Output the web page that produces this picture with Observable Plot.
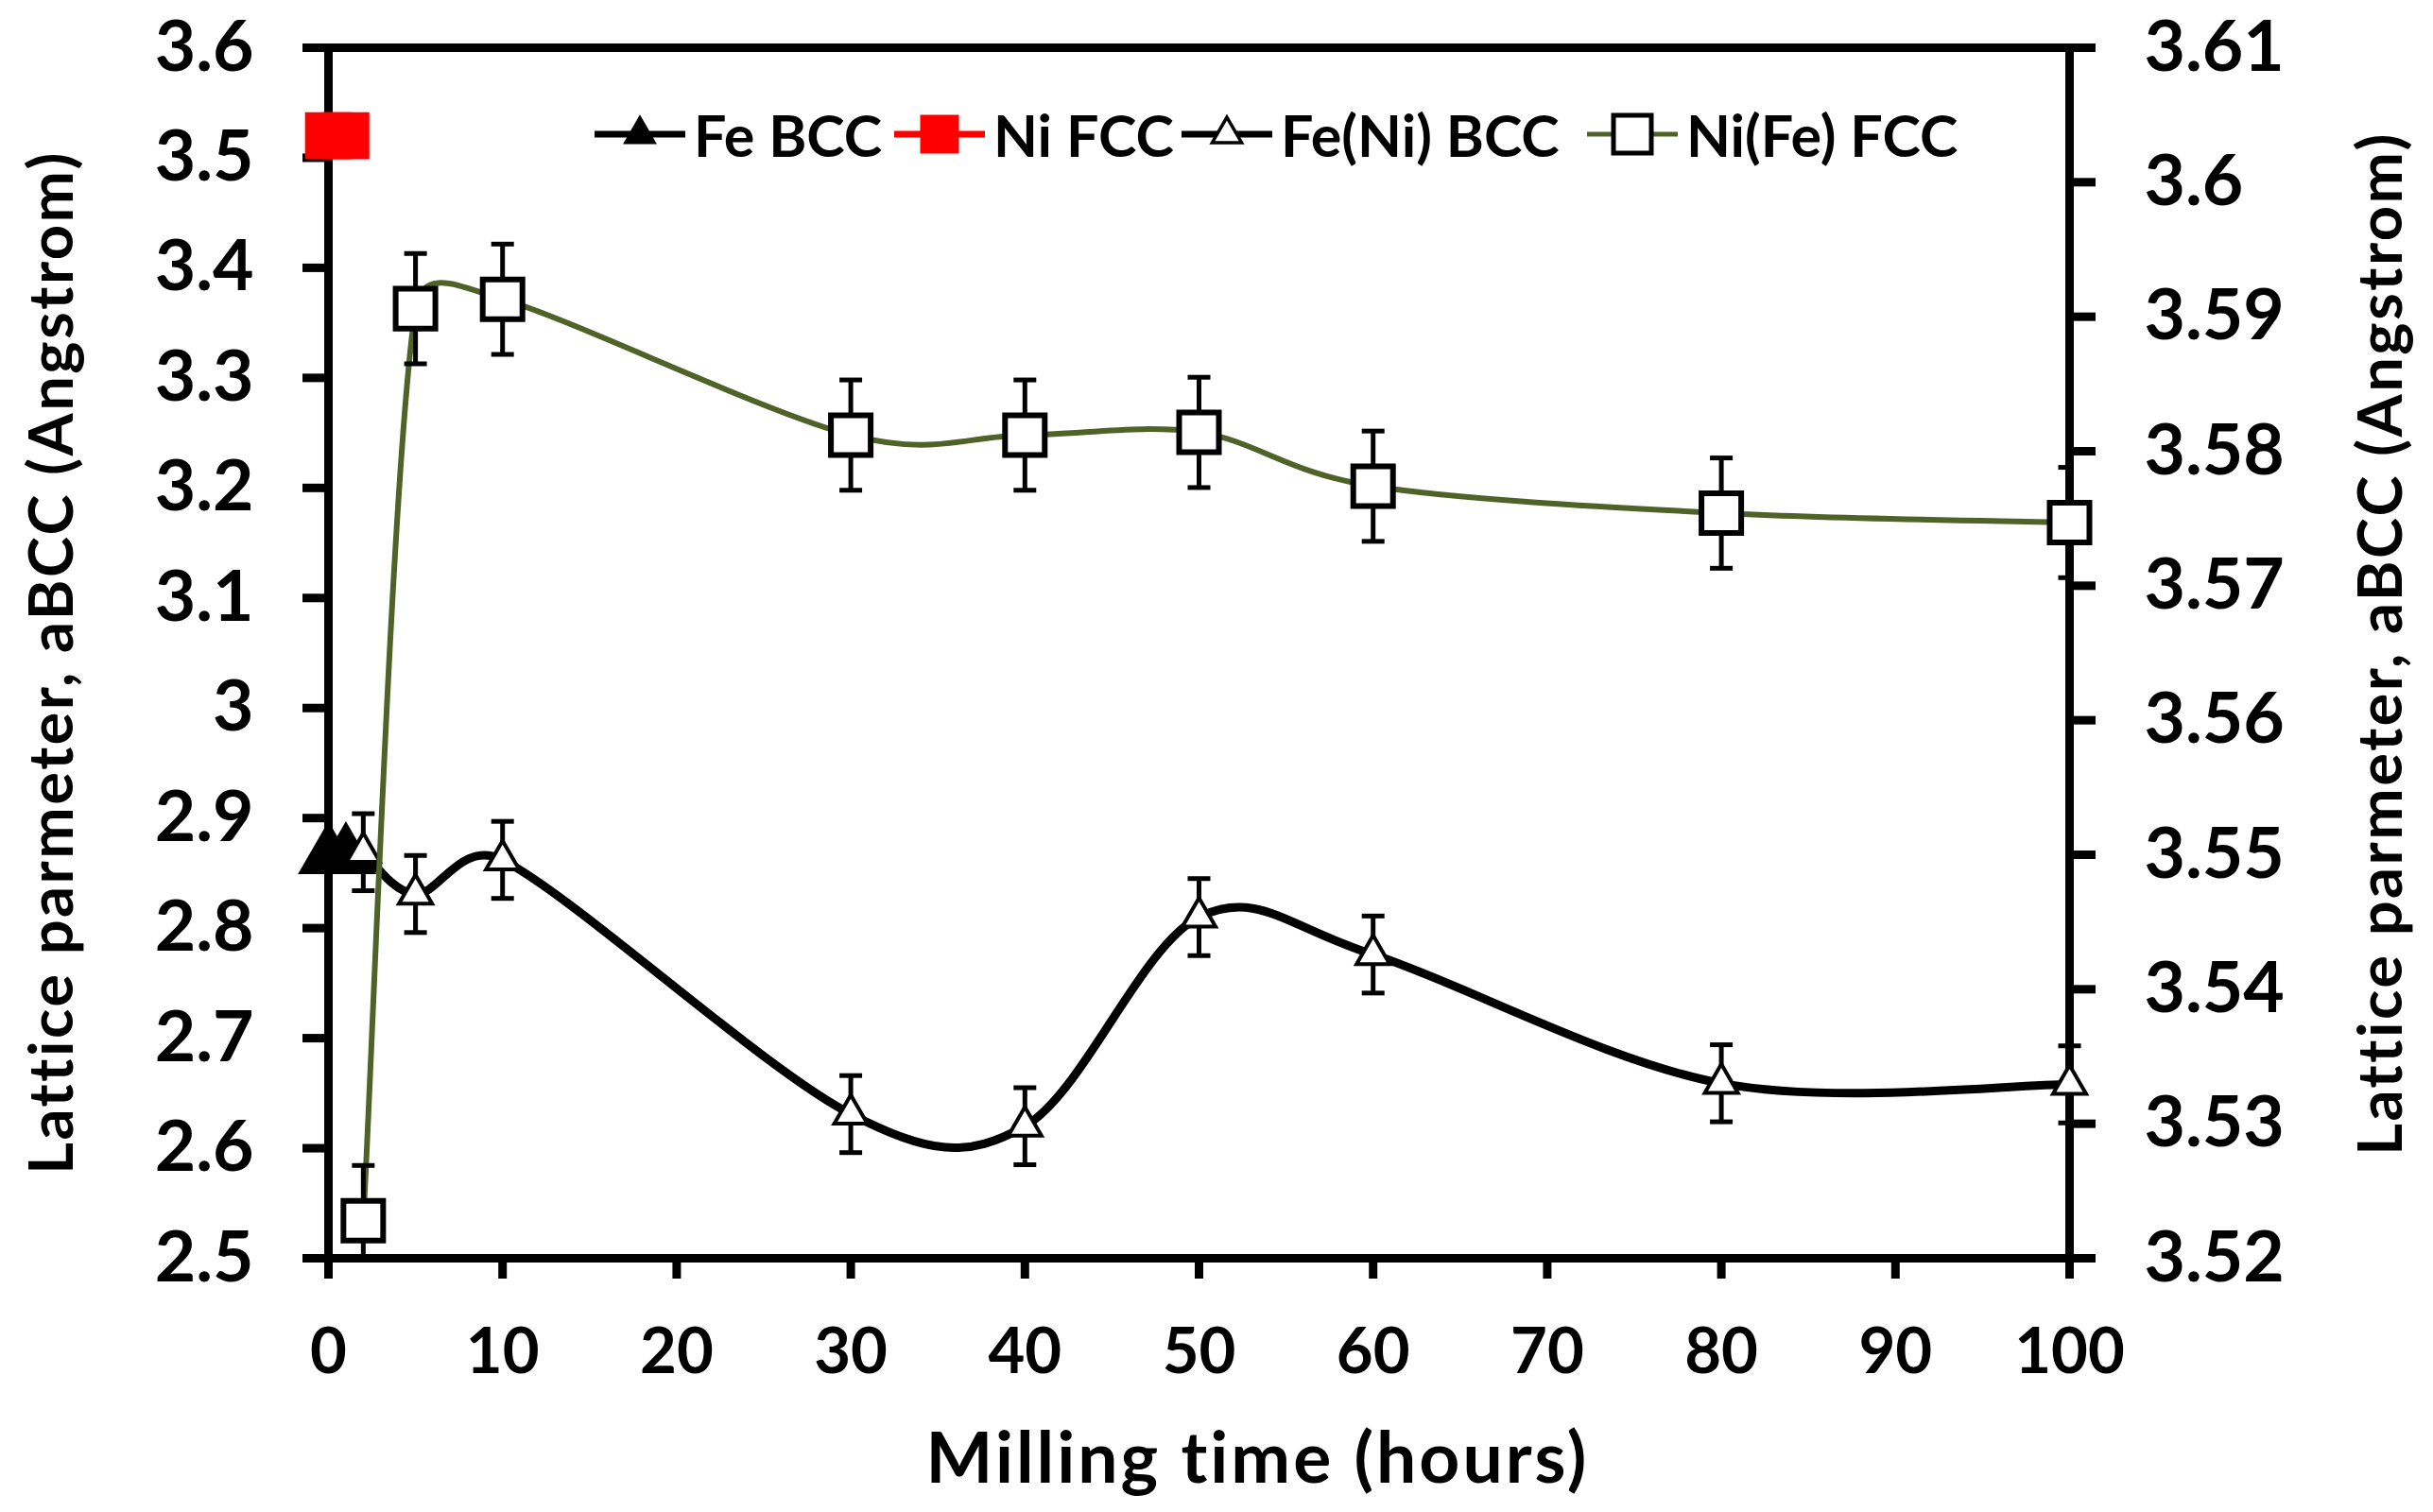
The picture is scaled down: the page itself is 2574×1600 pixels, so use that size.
<!DOCTYPE html>
<html><head><meta charset="utf-8">
<script src="https://cdn.jsdelivr.net/npm/d3@7"></script>
<script src="https://cdn.jsdelivr.net/npm/@observablehq/plot@0.6"></script>
<style>
html,body{margin:0;padding:0;background:#fff;}
#wrap{position:relative;width:2574px;height:1600px;overflow:hidden;}
#wrap > svg{position:absolute;left:0;top:0;}
.leg{position:absolute;display:flex;align-items:center;height:50px;font-family:Lato,sans-serif;font-weight:700;font-size:61px;color:#000;line-height:1;white-space:nowrap;}
.leg svg{display:block;margin-right:9px;}
</style></head><body><div id="wrap"></div>
<script>
// ---- data ----
const hours      = [2, 5, 10, 30, 40, 50, 60, 80, 100];
const feNiBCC    = [2.869, 2.831, 2.862, 2.631, 2.620, 2.810, 2.776, 2.659, 2.658];
const feNiErr    = [0.035, 0.035, 0.035, 0.035, 0.035, 0.035, 0.035, 0.035, 0.035];
const niFeFCC    = [3.5228, 3.5906, 3.5913, 3.5812, 3.5812, 3.5814, 3.5774, 3.5754, 3.5747];
const niFeErr    = [0.0041, 0.0041, 0.0041, 0.0041, 0.0041, 0.0041, 0.0041, 0.0041, 0.0041];
const pureHours  = [0, 1];
const feBCC      = [2.865, 2.865];
const niFCC      = [3.52, 3.52];
const xTicks     = [0, 10, 20, 30, 40, 50, 60, 70, 80, 90, 100];
const leftTicks  = [2.5, 2.6, 2.7, 2.8, 2.9, 3.0, 3.1, 3.2, 3.3, 3.4, 3.5, 3.6];
const rightTicks = [3.52, 3.53, 3.54, 3.55, 3.56, 3.57, 3.58, 3.59, 3.60, 3.61];
const seriesNames = ["Fe BCC", "Ni FCC", "Fe(Ni) BCC", "Ni(Fe) FCC"];
const xTitle = "Milling time (hours)";
const leftTitle = "Lattice parmeter, aBCC (Angstrom)";
const rightTitle = "Lattice parmeter, aBCC (Angstrom)";

const GREEN = "#4F6228";
const W = 2574, H = 1600;
const M = {left: 347, right: 385, top: 50, bottom: 269};

// Spreadsheet-style smoothed line: Bezier segments whose handles are 1/6 of the
// neighbouring chord, limited to half the segment length.
function smoothCurve(context) {
  let pts = [];
  return {
    areaStart() {}, areaEnd() {},
    lineStart() { pts = []; },
    point(x, y) { pts.push([+x, +y]); },
    lineEnd() {
      const n = pts.length;
      if (!n) return;
      context.moveTo(pts[0][0], pts[0][1]);
      const dist = (a, b) => Math.hypot(b[0] - a[0], b[1] - a[1]);
      for (let i = 0; i < n - 1; i++) {
        const p0 = pts[Math.max(i - 1, 0)], p1 = pts[i], p2 = pts[i + 1], p3 = pts[Math.min(i + 2, n - 1)];
        const d12 = dist(p1, p2), d02 = dist(p0, p2), d13 = dist(p1, p3);
        let f1 = 1 / 6, f2 = 1 / 6;
        if (d02 / 6 >= d12 / 2) f1 = d02 > 0 ? d12 / d02 / 2 : 0;
        if (d13 / 6 >= d12 / 2) f2 = d13 > 0 ? d12 / d13 / 2 : 0;
        context.bezierCurveTo(
          p1[0] + (p2[0] - p0[0]) * f1, p1[1] + (p2[1] - p0[1]) * f1,
          p2[0] - (p3[0] - p1[0]) * f2, p2[1] - (p3[1] - p1[1]) * f2,
          p2[0], p2[1]);
      }
    }
  };
}

const cap = {draw(ctx, size) { const w = Math.sqrt(size); ctx.moveTo(-w / 2, 0); ctx.lineTo(w / 2, 0); }};
const capR = 24 / Math.sqrt(Math.PI);

const bcc = hours.map((h, i) => ({h, v: feNiBCC[i], e: feNiErr[i]}));
const fcc = hours.map((h, i) => ({h, v: niFeFCC[i], e: niFeErr[i]}));
const fe = pureHours.map((h, i) => ({h, v: feBCC[i]}));
const ni = pureHours.map((h, i) => ({h, v: niFCC[i]}));

const baseStyle = {fontFamily: "Lato, sans-serif", fontWeight: "700", color: "black", background: "transparent", overflow: "visible"};
const fmt1 = d => String(+d.toFixed(1));
const fmt2 = d => String(+d.toFixed(2));

const plot1 = Plot.plot({
  width: W, height: H,
  marginLeft: M.left, marginRight: M.right, marginTop: M.top, marginBottom: M.bottom,
  style: baseStyle,
  x: {domain: [0, 100]},
  y: {domain: [2.5, 3.6]},
  marks: [
    Plot.frame({stroke: "black", strokeWidth: 9}),
    Plot.axisX({ticks: xTicks, anchor: "bottom", tickSize: 22, tickPadding: 52, strokeWidth: 9, fontSize: 67, fontWeight: 700, tickFormat: d => String(d), label: null}),
    Plot.axisY({ticks: leftTicks, anchor: "left", tickSize: 27, tickPadding: 52, strokeWidth: 9, fontSize: 75, fontWeight: 700, tickFormat: fmt1, label: null}),
    Plot.text([xTitle], {text: d => d, frameAnchor: "bottom", textAnchor: "middle", dx: 62, dy: 237, lineAnchor: "bottom", fontSize: 75, fontWeight: 700}),
    Plot.text([leftTitle], {text: d => d, frameAnchor: "left", textAnchor: "middle", dx: -271, dy: 10, rotate: -90, lineAnchor: "bottom", fontSize: 65, fontWeight: 700}),
    // Fe BCC
    Plot.line(fe, {x: "h", y: "v", stroke: "black", strokeWidth: 8}),
    Plot.dot(fe, {x: "h", y: "v", symbol: "triangle", r: 24, fill: "black", stroke: "none"}),
    // Ni FCC
    Plot.line(ni, {x: "h", y: "v", stroke: "#FF0000", strokeWidth: 8}),
    Plot.dot(ni, {x: "h", y: "v", symbol: "square", r: 28, fill: "#FF0000", stroke: "none"}),
    // Fe(Ni) BCC
    Plot.line(bcc, {x: "h", y: "v", curve: smoothCurve, stroke: "black", strokeWidth: 9}),
    Plot.ruleX(bcc, {x: "h", y1: d => d.v - d.e, y2: d => d.v + d.e, stroke: "black", strokeWidth: 5}),
    Plot.dot(bcc, {x: "h", y: d => d.v + d.e, symbol: cap, r: capR, fill: "none", stroke: "black", strokeWidth: 5}),
    Plot.dot(bcc, {x: "h", y: d => d.v - d.e, symbol: cap, r: capR, fill: "none", stroke: "black", strokeWidth: 5}),
    Plot.dot(bcc, {x: "h", y: "v", symbol: "triangle", r: 13, fill: "white", stroke: "black", strokeWidth: 4})
  ]
});

const plot2 = Plot.plot({
  width: W, height: H,
  marginLeft: M.left, marginRight: M.right, marginTop: M.top, marginBottom: M.bottom,
  style: baseStyle,
  x: {domain: [0, 100], axis: null},
  y: {domain: [3.52, 3.61], axis: null},
  marks: [
    Plot.axisY({ticks: rightTicks, anchor: "right", tickSize: 27, tickPadding: 52, strokeWidth: 9, fontSize: 75, fontWeight: 700, tickFormat: fmt2, label: null}),
    Plot.text([rightTitle], {text: d => d, frameAnchor: "right", textAnchor: "middle", dx: 351, dy: -10, rotate: -90, lineAnchor: "bottom", fontSize: 65, fontWeight: 700}),
    Plot.line(fcc, {x: "h", y: "v", curve: smoothCurve, stroke: GREEN, strokeWidth: 6, clip: true}),
    Plot.ruleX(fcc, {x: "h", y1: d => d.v - d.e, y2: d => d.v + d.e, stroke: "black", strokeWidth: 5, clip: true}),
    Plot.dot(fcc, {x: "h", y: d => d.v + d.e, symbol: cap, r: capR, fill: "none", stroke: "black", strokeWidth: 5, clip: true}),
    Plot.dot(fcc, {x: "h", y: d => d.v - d.e, symbol: cap, r: capR, fill: "none", stroke: "black", strokeWidth: 5, clip: true}),
    Plot.dot(fcc, {x: "h", y: "v", symbol: "square", r: 23.7, fill: "white", stroke: "black", strokeWidth: 6})
  ]
});

const wrap = document.getElementById("wrap");
wrap.append(plot1, plot2);

// widen the axis titles slightly (reference font is a little wider)
for (const svg of [plot1, plot2]) {
  svg.querySelectorAll("text").forEach(t => {
    if (t.textContent === xTitle) t.style.letterSpacing = "3px";
    if (t.textContent === leftTitle) t.style.letterSpacing = "2.5px";
  });
}

// ---- legend (inside plot area, top) ----
const legendItems = [
  {name: seriesNames[0], left: 629, line: "black", lw: 7, sym: d3.symbolTriangle, size: 560, fill: "black", stroke: "none", sw: 0},
  {name: seriesNames[1], left: 946, line: "#FF0000", lw: 7, sym: d3.symbolSquare, size: 1680, fill: "#FF0000", stroke: "none", sw: 0},
  {name: seriesNames[2], left: 1250, line: "black", lw: 7, sym: d3.symbolTriangle, size: 420, fill: "white", stroke: "black", sw: 3.5},
  {name: seriesNames[3], left: 1679, line: GREEN, lw: 5, sym: d3.symbolSquare, size: 1600, fill: "white", stroke: "black", sw: 5}
];
for (const it of legendItems) {
  const div = document.createElement("div");
  div.className = "leg";
  div.style.left = it.left + "px";
  div.style.top = (142 - 25) + "px";
  const sw = 96;
  div.innerHTML = `<svg width="${sw}" height="50" viewBox="0 0 ${sw} 50">
    <line x1="0" x2="${sw}" y1="25" y2="25" stroke="${it.line}" stroke-width="${it.lw}"/>
    <path transform="translate(${sw / 2},25)" d="${d3.symbol(it.sym, it.size)()}" fill="${it.fill}" stroke="${it.stroke}" stroke-width="${it.sw}"/>
  </svg><span>${it.name}</span>`;
  wrap.append(div);
}
</script></body></html>
